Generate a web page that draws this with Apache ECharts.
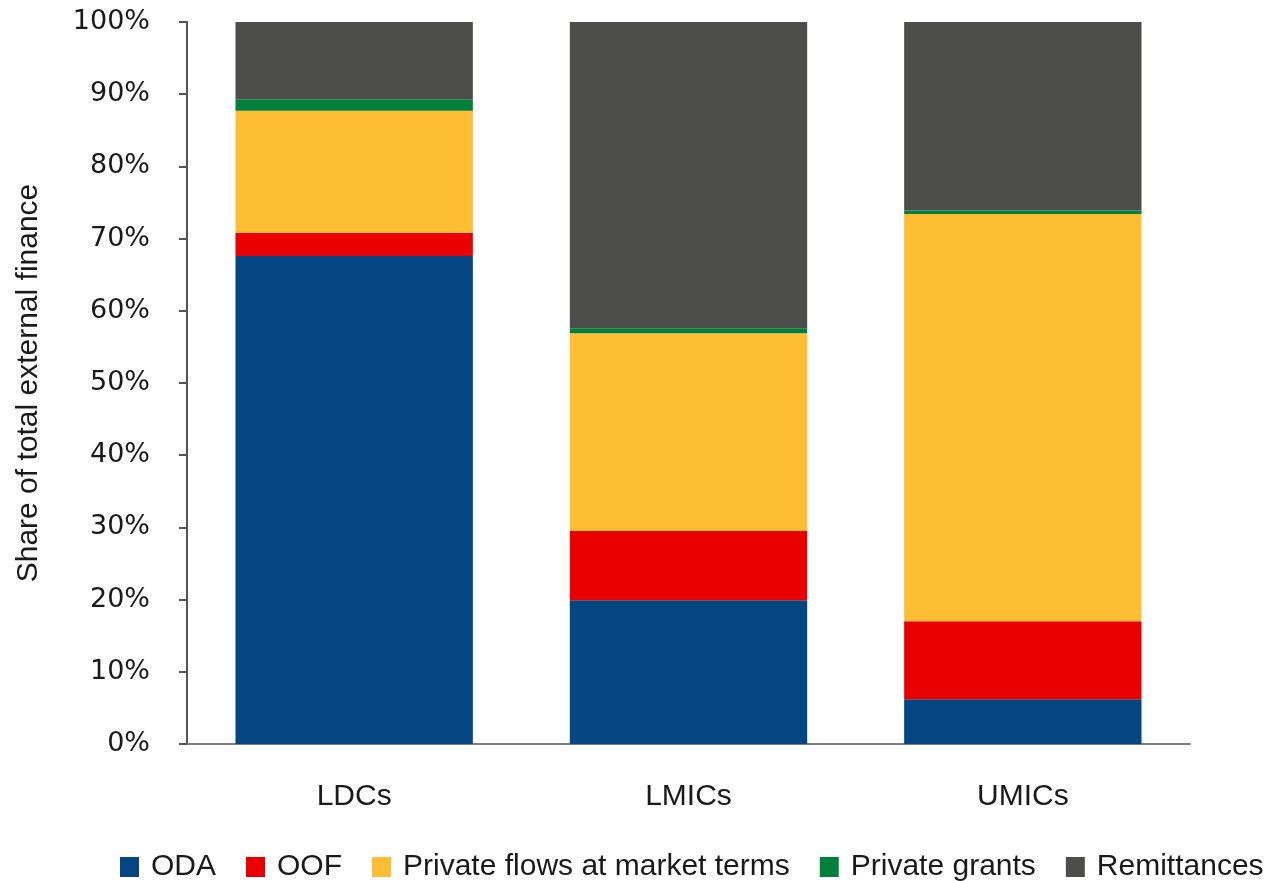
<!DOCTYPE html>
<html>
<head>
<meta charset="utf-8">
<style>
  html, body { margin: 0; padding: 0; background: #ffffff; }
  #chart { width: 1273px; height: 881px; }
</style>
<script src="https://cdn.jsdelivr.net/npm/echarts@6/dist/echarts.min.js"></script>
</head>
<body>
<div id="chart"></div>
<script>
// Income groups shown along the x axis
const categories = ['LDCs', 'LMICs', 'UMICs'];

// Share of total external finance, % per income group
const oda = [67.6, 19.9, 6.2];
const oof = [3.2, 9.6, 10.8];
const privateFlows = [16.9, 27.4, 56.4];
const privateGrants = [1.6, 0.7, 0.5];
const remittances = [10.7, 42.4, 26.1];

// Y axis ticks (percent)
const yTicks = [0, 10, 20, 30, 40, 50, 60, 70, 80, 90, 100];

const seriesDefs = [
  { name: 'ODA', data: oda, color: '#034681' },
  { name: 'OOF', data: oof, color: '#EA0000' },
  { name: 'Private flows at market terms', data: privateFlows, color: '#FDBE33' },
  { name: 'Private grants', data: privateGrants, color: '#00803A' },
  { name: 'Remittances', data: remittances, color: '#4D4E4C' }
];

const textColor = '#1a1a1a';
const chart = echarts.init(document.getElementById('chart'), null, { renderer: 'canvas' });

chart.setOption({
  animation: false,
  backgroundColor: '#ffffff',
  grid: {
    left: 187, right: 83, top: 22, bottom: 137,
    containLabel: false,
    outerBoundsMode: 'none'
  },
  legend: {
    data: seriesDefs.map(s => s.name),
    orient: 'horizontal',
    left: 120,
    top: 852,
    width: 1150,
    padding: 0,
    icon: 'rect',
    itemWidth: 19,
    itemHeight: 20,
    itemGap: 30,
    textStyle: {
      fontFamily: 'Liberation Sans',
      fontSize: 30,
      color: textColor,
      padding: [0, 0, 0, 7]
    }
  },
  xAxis: {
    type: 'category',
    data: categories,
    axisLine: { show: true, lineStyle: { color: '#7f7f7f', width: 2 } },
    axisTick: { show: false },
    axisLabel: {
      margin: 38,
      fontFamily: 'Liberation Sans',
      fontSize: 30,
      color: textColor
    }
  },
  yAxis: {
    type: 'value',
    min: yTicks[0],
    max: yTicks[yTicks.length - 1],
    interval: yTicks[1] - yTicks[0],
    name: 'Share of total external finance',
    nameLocation: 'middle',
    nameGap: 143,
    nameTextStyle: {
      fontFamily: 'Liberation Sans',
      fontSize: 30,
      color: textColor
    },
    axisLine: { show: true, lineStyle: { color: '#555555', width: 2 } },
    axisTick: { show: true, length: 8, inside: false, lineStyle: { color: '#555555', width: 2 } },
    splitLine: { show: false },
    axisLabel: {
      margin: 37,
      fontFamily: 'DejaVu Sans',
      fontSize: 27,
      color: textColor,
      formatter: '{value}%'
    }
  },
  series: seriesDefs.map(s => ({
    name: s.name,
    type: 'bar',
    stack: 'total',
    data: s.data,
    barWidth: '71%',
    itemStyle: { color: s.color },
    emphasis: { disabled: true }
  }))
});
</script>
</body>
</html>
